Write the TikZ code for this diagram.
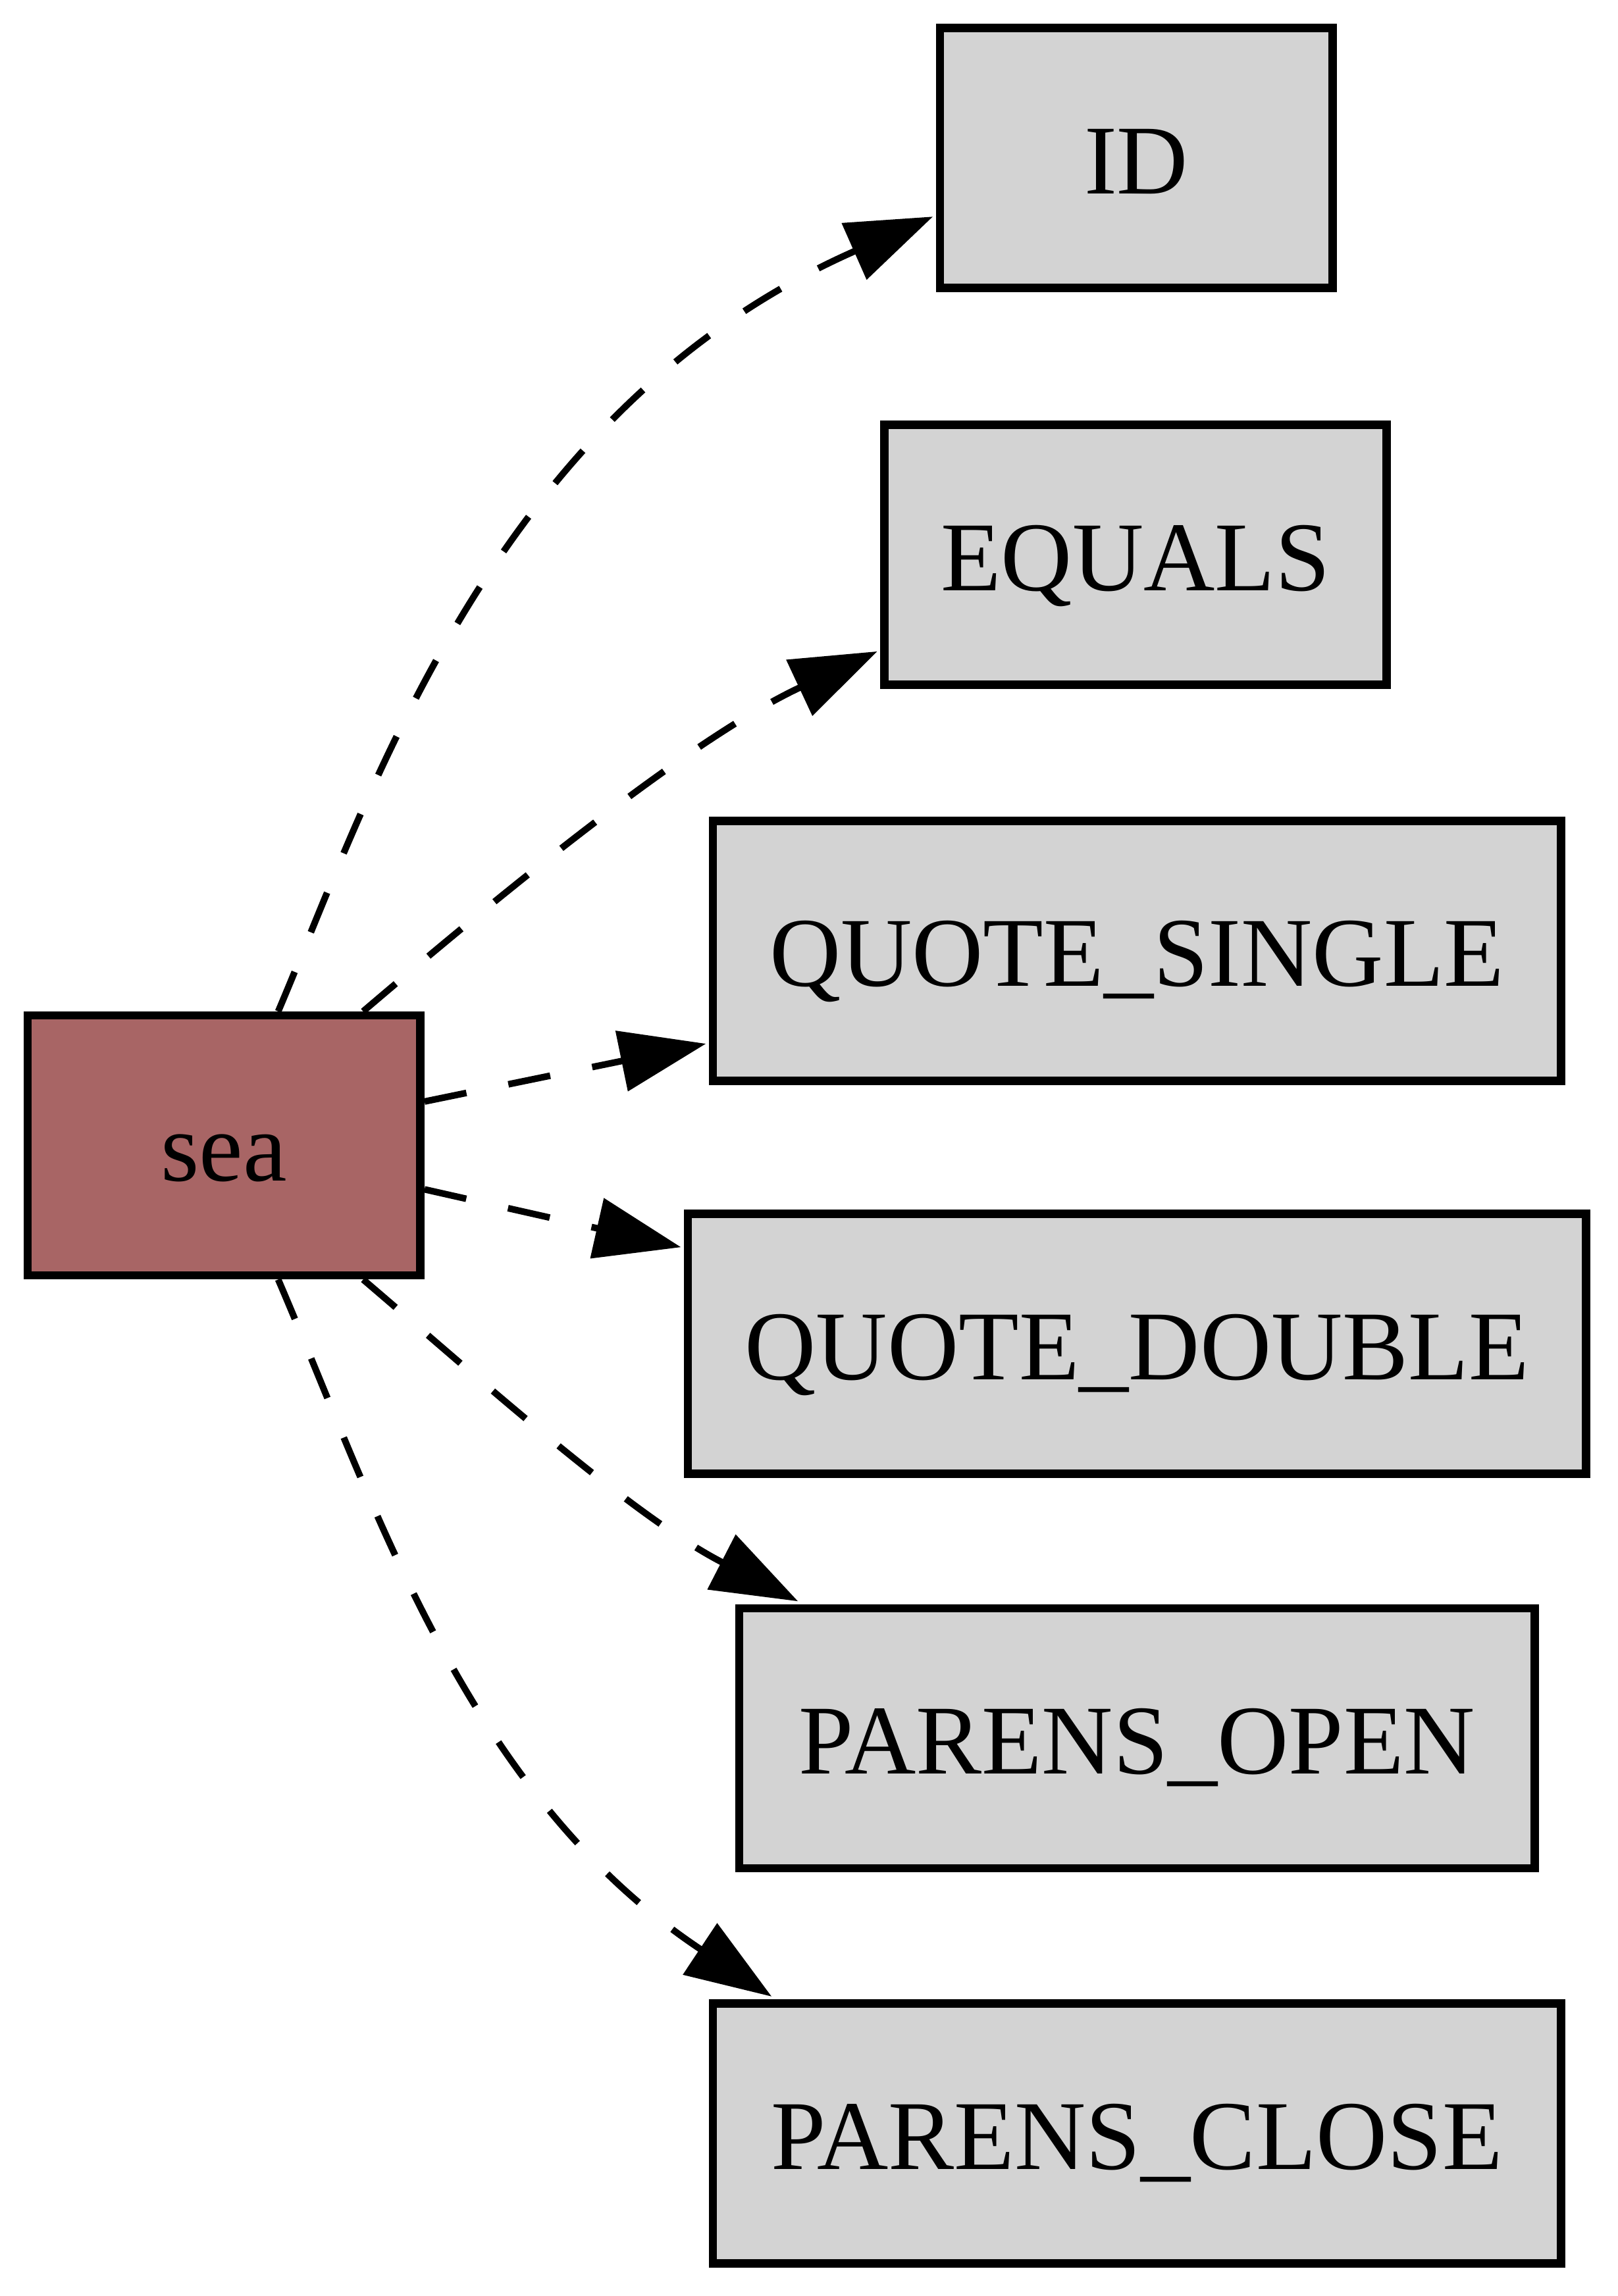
\documentclass[tikz,border=0pt]{standalone}
\usepackage{fontspec}
\setmainfont{Liberation Serif}
\usetikzlibrary{arrows.meta,calc}
\definecolor{seared}{RGB}{168,101,101}
\definecolor{tokgray}{RGB}{211,211,211}
\begin{document}
\begin{tikzpicture}[x=0.26695pt,y=-0.26695pt,
  box/.style={draw=black, line width=1.5pt, minimum width=#1, minimum height=47.4pt,
    inner sep=0pt, font=\fontsize{18pt}{20pt}\selectfont, text height=13pt, text depth=0pt},
  token/.style={box={#1}, fill=tokgray},
  edge/.style={draw=black, line width=1.2pt, dash pattern=on 7.8pt off 7.8pt,
    -{Triangle[length=15.7pt,width=11pt]}}]
\useasboundingbox (0,0) rectangle (1105,1568.5);

\node[box=71.6pt, fill=seared] (sea) at (153,782.5) {sea};
\node[token=71.6pt]  (ID) at (776,108)    {ID};
\node[token=91.6pt]  (EQ) at (775.5,379)  {EQUALS};
\node[token=154.6pt] (QS) at (776.5,649.5) {QUOTE\_SINGLE};
\node[token=163.7pt] (QD) at (776.5,918)  {QUOTE\_DOUBLE};
\node[token=145pt]   (PO) at (776.5,1187.5) {PARENS\_OPEN};
\node[token=154.6pt] (PC) at (776.5,1457.5) {PARENS\_CLOSE};

\draw[edge] ($(sea.north)+(37,0)$) .. controls (254,540) and (338,280) .. ($(ID.west)+(-2,40)$);
\draw[edge] ($(sea.north)+(95,0)$) .. controls (323,627) and (465.5,507.4) .. ($(EQ.west)+(-2,66)$);
\draw[edge] ($(sea.east)+(0,-30)$) -- ($(QS.west)+(-2,63.5)$);
\draw[edge] ($(sea.east)+(0,30)$) -- ($(QD.west)+(-2,-66)$);
\draw[edge] ($(sea.south)+(95,0)$) .. controls (323,938) and (430.2,1034.9) .. ($(PO.north)+(-231.5,-2)$);
\draw[edge] ($(sea.south)+(37,0)$) .. controls (256.3,1028.4) and (318,1225) .. ($(PC.north)+(-249.5,-2)$);
\end{tikzpicture}
\end{document}
